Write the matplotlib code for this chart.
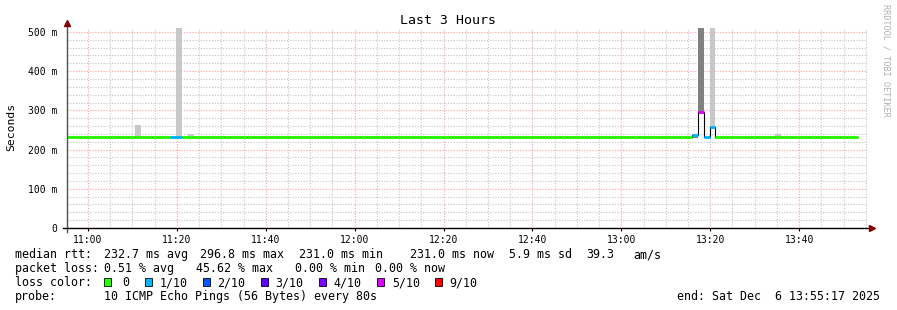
import datetime as dt

import matplotlib
matplotlib.use("Agg")
import matplotlib.pyplot as plt
import matplotlib.dates as mdates
from matplotlib.ticker import MultipleLocator, FuncFormatter
from matplotlib.patches import Rectangle
import numpy as np

W, H = 897, 310
MONO = "DejaVu Sans Mono"

# time window of the graph
t_start = dt.datetime(2025, 12, 6, 10, 55, 17)
t_end = dt.datetime(2025, 12, 6, 13, 55, 17)
first_bin = dt.datetime(2025, 12, 6, 10, 54, 31)
step_s = 80
n_bins = 134

# median rtt (ms) - flat line with a few deviations
median_base = 232.8
dip_bins = [47, 72, 113, 116, 128, 133]
dip_value = 231.0

# bins with packet loss: median and lost pings out of 10
loss_bins = [18, 19, 106, 107, 108, 109]
loss_median = [232.8, 232.8, 236.5, 296.8, 232.8, 257.0]
loss_tenths = [1, 1, 1, 5, 1, 1]

# smoke (ping spread) per bin
smoke_bins = [12, 19, 21, 106, 107, 109, 120]
smoke_lo = [232.8, 232.8, 232.8, 230.0, 296.8, 257.0, 232.8]
smoke_hi = [262.0, 800.0, 240.0, 236.5, 800.0, 800.0, 240.0]
smoke_dark = [False, False, False, True, True, False, False]

loss_labels = ["0", "1/10", "2/10", "3/10", "4/10", "5/10", "9/10"]
loss_levels = [0, 1, 2, 3, 4, 5, 9]
loss_colors = ["#26ff00", "#00b8ff", "#0059ff", "#5e00ff", "#7e00ff", "#dd00ff", "#ff0000"]


def fx(x):
    return x / W


def fy(y):
    return 1 - y / H


def loss_color(n):
    for lvl, col in zip(loss_levels, loss_colors):
        if n <= lvl:
            return col
    return loss_colors[-1]


fig = plt.figure(figsize=(W / 100, H / 100), dpi=100)
ax = fig.add_axes([fx(67), fy(228), 800 / W, 200 / H])

edges = mdates.date2num([first_bin + dt.timedelta(seconds=step_s * j) for j in range(n_bins + 1)])
centers = (edges[:-1] + edges[1:]) / 2
bin_w = step_s / 86400

median = np.full(n_bins, median_base)
median[dip_bins] = dip_value
median[loss_bins] = loss_median
loss = np.zeros(n_bins, dtype=int)
loss[loss_bins] = loss_tenths

# smoke
lo = np.array(smoke_lo)
hi = np.array(smoke_hi)
cols = ["#808080" if d else "#c8c8c8" for d in smoke_dark]
ax.bar(centers[smoke_bins], hi - lo, bottom=lo, width=bin_w, color=cols, lw=0, zorder=2)

# median: black step + loss coloured segments
ax.stairs(median, edges, baseline=None, color="black", lw=0.8, zorder=3)
for j in range(n_bins):
    ax.hlines(median[j], edges[j], edges[j + 1], color=loss_color(loss[j]), lw=2.1, zorder=4)

ax.set_xlim(mdates.date2num(t_start), mdates.date2num(t_end))
ax.set_ylim(0, 510)

ax.xaxis.set_major_locator(mdates.MinuteLocator(byminute=[0, 20, 40]))
ax.xaxis.set_minor_locator(mdates.MinuteLocator(byminute=range(0, 60, 5)))
ax.xaxis.set_major_formatter(mdates.DateFormatter("%H:%M"))
ax.yaxis.set_major_locator(MultipleLocator(100))
ax.yaxis.set_minor_locator(MultipleLocator(20))
ax.yaxis.set_major_formatter(FuncFormatter(lambda v, p: "0" if v == 0 else f"{int(v)} m"))

dots = (0, (1, 1.5))
ax.grid(which="major", color="#ff9c9c", linestyle=dots, lw=0.8, zorder=0)
ax.grid(which="minor", color="#c4c4c4", linestyle=dots, lw=0.8, zorder=0)
ax.set_axisbelow(True)

ax.tick_params(axis="x", which="major", length=2, width=0.8, pad=3, labelsize=7)
ax.tick_params(axis="x", which="minor", length=0)
ax.tick_params(axis="y", which="both", length=0, pad=7, labelsize=7)
for lab in ax.get_xticklabels() + ax.get_yticklabels():
    lab.set_fontfamily(MONO)

for s in ["top", "right", "left", "bottom"]:
    ax.spines[s].set_visible(False)

# axes with arrow heads
ax.plot([0, 0], [-0.02, 1.02], transform=ax.transAxes, color="#505050", lw=1, clip_on=False, zorder=5)
ax.plot([-0.005, 1.004], [0, 0], transform=ax.transAxes, color="black", lw=1, clip_on=False, zorder=5)
ax.plot([0], [1.027], transform=ax.transAxes, marker="^", ms=4, color="#800000", clip_on=False, zorder=6)
ax.plot([1.006], [0], transform=ax.transAxes, marker=">", ms=4, color="#800000", clip_on=False, zorder=6)

fig.text(fx(448), fy(24), "Last 3 Hours", family=MONO, fontsize=9.5, ha="center", va="baseline")
fig.text(fx(11), fy(127), "Seconds", family=MONO, fontsize=8.2, rotation=90, ha="center", va="center")
fig.text(fx(886), fy(4), "RRDTOOL / TOBI OETIKER", family=MONO, fontsize=6.1, color="#b0b0b0",
         rotation=270, ha="center", va="top")

# legend block
fs = 8.4
row1 = [(15, "median rtt:"), (104, "232.7 ms avg"), (200, "296.8 ms max"), (299, "231.0 ms min"),
        (410, "231.0 ms now"), (509, "5.9 ms sd"), (586, "39.3"), (633, "am/s")]
row2 = [(15, "packet loss:"), (104, "0.51 % avg"), (196, "45.62 % max"), (295, "0.00 % min"),
        (375, "0.00 % now")]
for x, txt in row1:
    fig.text(fx(x), fy(258), txt, family=MONO, fontsize=fs, va="baseline")
for x, txt in row2:
    fig.text(fx(x), fy(272), txt, family=MONO, fontsize=fs, va="baseline")

fig.text(fx(15), fy(286), "loss color:", family=MONO, fontsize=fs, va="baseline")
box_x = [104, 145, 203, 261, 319, 377, 435]
text_x = [122, 160, 217, 275, 333, 392, 449]
for bx, tx, lab, col in zip(box_x, text_x, loss_labels, loss_colors):
    fig.patches.append(Rectangle((fx(bx), fy(286)), 7 / W, 8 / H, transform=fig.transFigure,
                                 facecolor=col, edgecolor="black", lw=0.6))
    fig.text(fx(tx), fy(286), lab, family=MONO, fontsize=fs, va="baseline")

fig.text(fx(15), fy(300), "probe:", family=MONO, fontsize=fs, va="baseline")
fig.text(fx(104), fy(300), "10 ICMP Echo Pings (56 Bytes) every 80s", family=MONO, fontsize=fs, va="baseline")
fig.text(fx(880), fy(300), "end: Sat Dec  6 13:55:17 2025", family=MONO, fontsize=fs, va="baseline", ha="right")

fig.savefig("out.png", dpi=100)
